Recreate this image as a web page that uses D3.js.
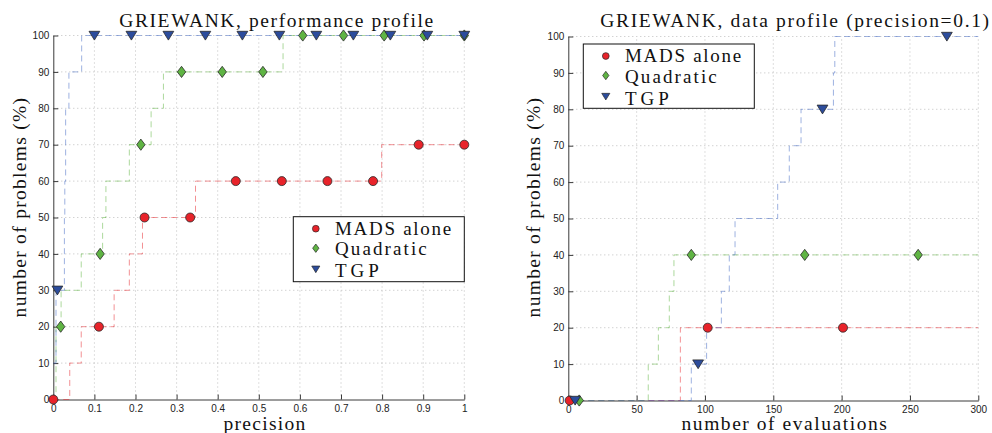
<!DOCTYPE html>
<html>
<head>
<meta charset="utf-8">
<script src="https://cdn.jsdelivr.net/npm/d3@7"></script>
<style>
  html, body { margin: 0; padding: 0; background: #fff; }
  svg { display: block; }
</style>
</head>
<body>
<svg id="fig" width="992" height="433"></svg>
<script>
const serifFont = "'Liberation Serif'";
const sansFont = "'Liberation Sans'";

// ---- series ----
const seriesNames  = ["MADS alone", "Quadratic", "TGP"];
const markerFill   = ["#e8232a", "#5fb443", "#2c4c9c"];
const lineColor    = ["#e8232a", "#5cb33c", "#3e66c4"];

// ---- performance profile (x: precision, y: % of problems), step breakpoints ----
const perfMadsX  = [0, 0.04, 0.068, 0.148, 0.185, 0.217, 0.346, 0.799, 1];
const perfMadsY  = [0, 10, 20, 30, 40, 50, 60, 70, 70];
const perfQuadX  = [0, 0.0066, 0.019, 0.068, 0.12, 0.128, 0.185, 0.238, 0.268, 0.559, 1];
const perfQuadY  = [0, 20, 30, 40, 50, 60, 70, 80, 90, 100, 100];
const perfTgpX   = [0, 0.0066, 0.027, 0.027, 0.028, 0.030, 0.030, 0.038, 0.069, 1];
const perfTgpY   = [10, 30, 40, 50, 60, 70, 80, 90, 100, 100];

// markers of the performance profile
const perfMadsMarkX = [0, 0.111, 0.222, 0.333, 0.444, 0.556, 0.667, 0.778, 0.889, 1];
const perfMadsMarkY = [0, 20, 50, 50, 60, 60, 60, 60, 70, 70];
const perfQuadMarkX = [0.018, 0.114, 0.213, 0.312, 0.411, 0.51, 0.607, 0.706, 0.805, 0.902, 1];
const perfQuadMarkY = [20, 40, 70, 90, 90, 90, 100, 100, 100, 100, 100];
const perfTgpMarkX  = [0.01, 0.1, 0.19, 0.28, 0.37, 0.46, 0.55, 0.64, 0.73, 0.82, 0.91, 1];
const perfTgpMarkY  = [30, 100, 100, 100, 100, 100, 100, 100, 100, 100, 100, 100];

// ---- data profile (x: number of evaluations, y: % of problems) ----
const dataMadsX = [0, 82, 300];
const dataMadsY = [0, 20, 20];
const dataQuadX = [0, 58.5, 65.9, 73.9, 77.3, 300];
const dataQuadY = [0, 10, 20, 30, 40, 40];
const dataTgpX  = [0, 90, 101.2, 112, 117.8, 122, 153.2, 161.7, 170.3, 194, 195, 300];
const dataTgpY  = [0, 10, 20, 30, 40, 50, 60, 70, 80, 90, 100, 100];

const dataMadsMarkX = [1, 102, 201];
const dataMadsMarkY = [0, 20, 20];
const dataQuadMarkX = [8, 90, 173, 256];
const dataQuadMarkY = [0, 40, 40, 40];
const dataTgpMarkX  = [5, 95, 186, 277];
const dataTgpMarkY  = [0, 10, 80, 100];

// ---- ticks ----
const perfTicksX = [0, 0.1, 0.2, 0.3, 0.4, 0.5, 0.6, 0.7, 0.8, 0.9, 1];
const perfTickLabelsX = ["0", "0.1", "0.2", "0.3", "0.4", "0.5", "0.6", "0.7", "0.8", "0.9", "1"];
const dataTicksX = [0, 50, 100, 150, 200, 250, 300];
const dataTickLabelsX = ["0", "50", "100", "150", "200", "250", "300"];
const ticksY = [0, 10, 20, 30, 40, 50, 60, 70, 80, 90, 100];

// ---- marker shapes ----
function markerPath(kind, s) {
  if (kind === 0) {                       // circle
    const r = 4.5 * s;
    return `M${r},0A${r},${r} 0 1,1 ${-r},0A${r},${r} 0 1,1 ${r},0Z`;
  }
  if (kind === 1) {                       // diamond
    const w = 4.2 * s, h = 5.6 * s;
    return `M0,${-h}L${w},0L0,${h}L${-w},0Z`;
  }
  const w = 5.4 * s;                      // downward triangle
  return `M${-w},${-4.2 * s}L${w},${-4.2 * s}L0,${4.6 * s}Z`;
}

const svg = d3.select("#fig");

// LaTeX-like serif text, widened with letter spacing
function texText(parent, size, spacing) {
  return parent.append("text")
    .attr("font-family", serifFont).attr("font-size", size).attr("fill", "#111")
    .attr("letter-spacing", spacing);
}

function drawPanel(cfg) {
  const x = d3.scaleLinear().domain(cfg.xDomain).range(cfg.xRange);
  const y = d3.scaleLinear().domain([0, 100]).range(cfg.yRange);
  const g = svg.append("g");

  // dotted grid
  const grid = g.append("g").attr("stroke", "#b8b8b8").attr("stroke-width", 0.9)
    .attr("stroke-dasharray", "1,3").attr("fill", "none");
  grid.selectAll("line.v").data(cfg.ticksX.slice(1)).join("line")
    .attr("x1", d => x(d)).attr("x2", d => x(d))
    .attr("y1", y(0)).attr("y2", y(100));
  grid.selectAll("line.h").data(ticksY.slice(1)).join("line")
    .attr("x1", x(cfg.xDomain[0])).attr("x2", x(cfg.xDomain[1]))
    .attr("y1", d => y(d)).attr("y2", d => y(d));

  // axes (ticks pointing inward)
  const xAxis = d3.axisBottom(x).tickValues(cfg.ticksX)
    .tickFormat((d, i) => cfg.tickLabelsX[i]).tickSizeInner(-5).tickSizeOuter(0).tickPadding(5);
  const yAxis = d3.axisLeft(y).tickValues(ticksY)
    .tickFormat(d => String(d)).tickSizeInner(-5).tickSizeOuter(0).tickPadding(4);
  const gx = g.append("g").attr("transform", `translate(0,${y(0)})`).call(xAxis);
  const gy = g.append("g").attr("transform", `translate(${x(cfg.xDomain[0])},0)`).call(yAxis);
  [gx, gy].forEach(a => {
    a.attr("font-family", sansFont).attr("font-size", 10);
    a.select(".domain").attr("stroke", "#3a3a3a").attr("stroke-width", 1);
    a.selectAll(".tick line").attr("stroke", "#3a3a3a");
    a.selectAll(".tick text").attr("fill", "#222");
  });

  // step lines
  const line = d3.line().x(d => x(d[0])).y(d => y(d[1])).curve(d3.curveStepAfter);
  cfg.steps.forEach((s, i) => {
    g.append("path").datum(s.xs.map((v, k) => [v, s.ys[k]]))
      .attr("d", line).attr("fill", "none")
      .attr("stroke", lineColor[i]).attr("stroke-opacity", 0.5)
      .attr("stroke-width", 1).attr("stroke-dasharray", "6,4");
  });

  // markers
  cfg.marks.forEach((m, i) => {
    g.append("g").selectAll("path").data(m.xs.map((v, k) => [v, m.ys[k]])).join("path")
      .attr("transform", d => `translate(${x(d[0])},${y(d[1])})`)
      .attr("d", markerPath(i, 1))
      .attr("fill", markerFill[i]).attr("stroke", "#2a2a2a").attr("stroke-width", 0.8);
  });

  // title and labels
  texText(g, 19.5, cfg.titleSpacing)
    .attr("x", cfg.titleX).attr("y", 26.5).attr("text-anchor", "middle")
    .text(cfg.title);
  texText(g, 19.5, cfg.xLabelSpacing)
    .attr("x", cfg.xLabelX).attr("y", 429.5).attr("text-anchor", "middle")
    .text(cfg.xLabel);
  texText(g, 19.5, 1.3)
    .attr("transform", `translate(${cfg.yLabelX},207) rotate(-90)`).attr("text-anchor", "middle")
    .text("number of problems (%)");

  // legend
  const lg = g.append("g").attr("transform", `translate(${cfg.legend[0]},${cfg.legend[1]})`);
  lg.append("rect").attr("width", cfg.legend[2]).attr("height", cfg.legend[3])
    .attr("fill", "#fff").attr("stroke", "#111").attr("stroke-width", 1);
  const markY = [12, 31.5, 52.5];
  const textY = [18, 38.5, 60.5];
  const textSpacing = [1.7, 2.1, 4];
  seriesNames.forEach((name, i) => {
    lg.append("path").attr("transform", `translate(22.5,${markY[i]})`)
      .attr("d", markerPath(i, 0.75))
      .attr("fill", markerFill[i]).attr("stroke", "#2a2a2a").attr("stroke-width", 0.7);
    texText(lg, 19, textSpacing[i]).attr("x", 41.7).attr("y", textY[i]).text(name);
  });
}

drawPanel({
  xDomain: [0, 1], xRange: [53.3, 464.3], yRange: [399.5, 35.5],
  ticksX: perfTicksX, tickLabelsX: perfTickLabelsX,
  steps: [{xs: perfMadsX, ys: perfMadsY}, {xs: perfQuadX, ys: perfQuadY}, {xs: perfTgpX, ys: perfTgpY}],
  marks: [{xs: perfMadsMarkX, ys: perfMadsMarkY}, {xs: perfQuadMarkX, ys: perfQuadMarkY}, {xs: perfTgpMarkX, ys: perfTgpMarkY}],
  title: "GRIEWANK, performance profile", titleX: 277, titleSpacing: 1.6,
  xLabel: "precision", xLabelX: 265, xLabelSpacing: 1.3,
  yLabelX: 25.5,
  legend: [293.3, 216.7, 171, 65]
});

drawPanel({
  xDomain: [0, 300], xRange: [568.3, 978.3], yRange: [400.5, 36.5],
  ticksX: dataTicksX, tickLabelsX: dataTickLabelsX,
  steps: [{xs: dataMadsX, ys: dataMadsY}, {xs: dataQuadX, ys: dataQuadY}, {xs: dataTgpX, ys: dataTgpY}],
  marks: [{xs: dataMadsMarkX, ys: dataMadsMarkY}, {xs: dataQuadMarkX, ys: dataQuadMarkY}, {xs: dataTgpMarkX, ys: dataTgpMarkY}],
  title: "GRIEWANK, data profile (precision=0.1)", titleX: 795.5, titleSpacing: 1.65,
  xLabel: "number of evaluations", xLabelX: 785, xLabelSpacing: 1.55,
  yLabelX: 540,
  legend: [583.3, 44, 171, 64.3]
});
</script>
</body>
</html>
